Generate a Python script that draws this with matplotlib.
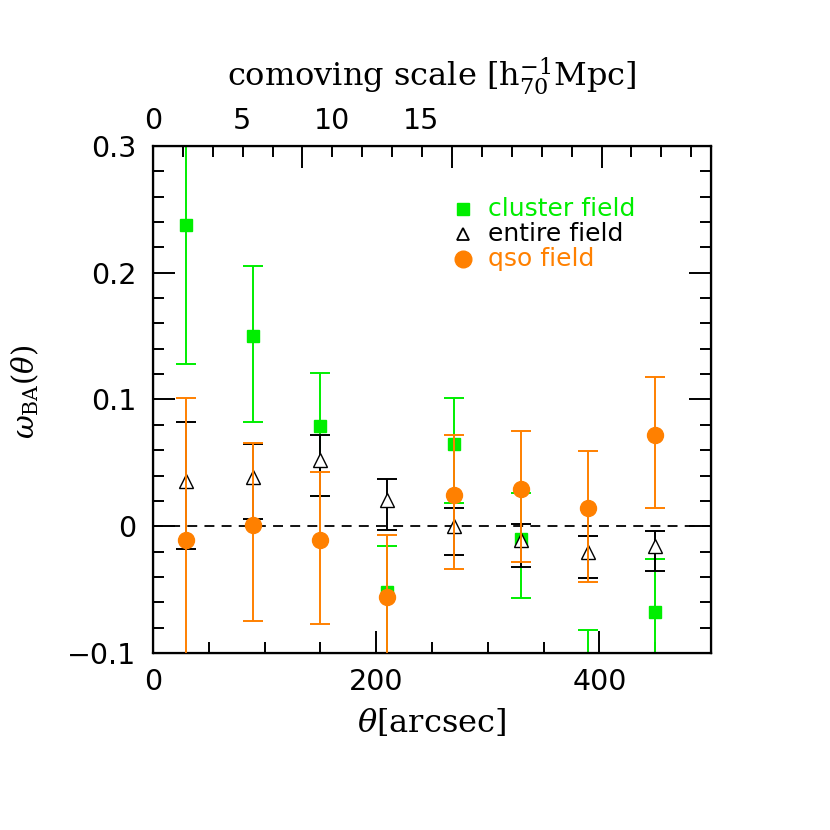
import matplotlib
matplotlib.use("Agg")
import matplotlib.pyplot as plt
from matplotlib.ticker import MultipleLocator, FixedLocator
import numpy as np

plt.rcParams['mathtext.fontset'] = 'dejavuserif'

theta = [30, 90, 150, 210, 270, 330, 390, 450]

# cluster field
clu_y = [0.238, 0.150, 0.079, -0.052, 0.065, -0.010, -0.125, -0.068]
clu_lo = [0.110, 0.068, 0.055, 0.060, 0.047, 0.047, 0.045, 0.045]
clu_hi = [0.110, 0.055, 0.042, 0.036, 0.036, 0.036, 0.043, 0.042]

# entire field
ent_y = [0.036, 0.039, 0.052, 0.021, 0.000, -0.011, -0.020, -0.016]
ent_lo = [0.054, 0.033, 0.028, 0.024, 0.023, 0.021, 0.021, 0.019]
ent_hi = [0.046, 0.026, 0.020, 0.016, 0.014, 0.013, 0.012, 0.012]

# qso field
qso_y = [-0.011, 0.001, -0.011, -0.056, 0.025, 0.029, 0.014, 0.072]
qso_lo = [0.112, 0.076, 0.066, 0.060, 0.059, 0.057, 0.058, 0.058]
qso_hi = [0.112, 0.065, 0.054, 0.049, 0.047, 0.046, 0.045, 0.046]

legend_labels = ["cluster field", "entire field", "qso field"]
top_tick_labels = [0, 5, 10, 15]

GREEN = '#00ee00'
ORANGE = '#ff8000'

fig = plt.figure(figsize=(8.3, 8.3), dpi=100)
ax = fig.add_axes([0.1843, 0.2133, 0.6723, 0.6108])

ek = dict(elinewidth=1.4, capsize=7, capthick=1.4, linestyle='none')
ax.errorbar(theta, clu_y, yerr=[clu_lo, clu_hi], color=GREEN, marker='s',
            markersize=8, markeredgecolor=GREEN, **ek, zorder=2)
ax.errorbar(theta, ent_y, yerr=[ent_lo, ent_hi], color='black', marker='^',
            markersize=10, markerfacecolor='white', **ek, zorder=3)
ax.errorbar(theta, qso_y, yerr=[qso_lo, qso_hi], color=ORANGE, marker='o',
            markersize=11.5, markeredgecolor=ORANGE, **ek, zorder=4)

ax.axhline(0, color='black', linestyle=(0, (5.5, 4)), linewidth=1.3, zorder=1)

ax.set_xlim(0, 500)
ax.set_ylim(-0.1, 0.3)
ax.xaxis.set_major_locator(FixedLocator([0, 200, 400]))
ax.xaxis.set_minor_locator(MultipleLocator(50))
ax.yaxis.set_major_locator(MultipleLocator(0.1))
ax.yaxis.set_minor_locator(MultipleLocator(0.02))
ax.set_yticks([-0.1, 0, 0.1, 0.2, 0.3])
ax.set_yticklabels(['\u22120.1', '0', '0.1', '0.2', '0.3'])
ax.tick_params(which='both', direction='in', top=False, right=True, width=1.4,
               labelsize=20.5)
ax.tick_params(axis='y', pad=12)
ax.tick_params(axis='x', pad=11)
ax.tick_params(which='major', length=16)
ax.tick_params(which='minor', length=8)
for s in ax.spines.values():
    s.set_linewidth(1.6)

ax.set_xlabel(r'$\theta$[arcsec]', fontsize=23, family='DejaVu Serif', labelpad=8)
ax.set_ylabel(r'$\omega_{\rm BA}(\theta)$', fontsize=21)
ax.yaxis.set_label_coords(-0.20, 0.515)

# top tick marks
ax2 = ax.twiny()
ax2.set_xlim(0, 3.732)
ax2.xaxis.set_major_locator(MultipleLocator(1))
ax2.xaxis.set_minor_locator(MultipleLocator(0.2))
ax2.tick_params(which='both', direction='in', labeltop=False, width=1.4)
ax2.tick_params(which='major', length=16)
ax2.tick_params(which='minor', length=8)

# top labels
ax3 = ax.twiny()
ax3.set_xlim(0, 31.23)
ax3.set_xticks(top_tick_labels)
ax3.tick_params(length=0, labelsize=20.5, pad=8)
ax3.set_xlabel(r'comoving scale [h$_{70}^{-1}$Mpc]', fontsize=23,
               family='DejaVu Serif', labelpad=15)

# legend as text
lx, ly = 0.555, 0.875
ys = [ly, ly - 0.048, ly - 0.098]
ax.plot([lx], [ys[0]], marker='s', color=GREEN, markersize=8, transform=ax.transAxes, clip_on=False)
ax.plot([lx], [ys[1]], marker='^', color='black', markerfacecolor='white', markersize=9,
        markeredgewidth=1.3, transform=ax.transAxes, clip_on=False)
ax.plot([lx], [ys[2]], marker='o', color=ORANGE, markersize=12, transform=ax.transAxes, clip_on=False)
cols = [GREEN, 'black', ORANGE]
for lab, yy, c in zip(legend_labels, ys, cols):
    ax.text(lx + 0.045, yy, lab, color=c, fontsize=18, transform=ax.transAxes,
            va='center', ha='left')

fig.savefig('out.png', dpi=100)
